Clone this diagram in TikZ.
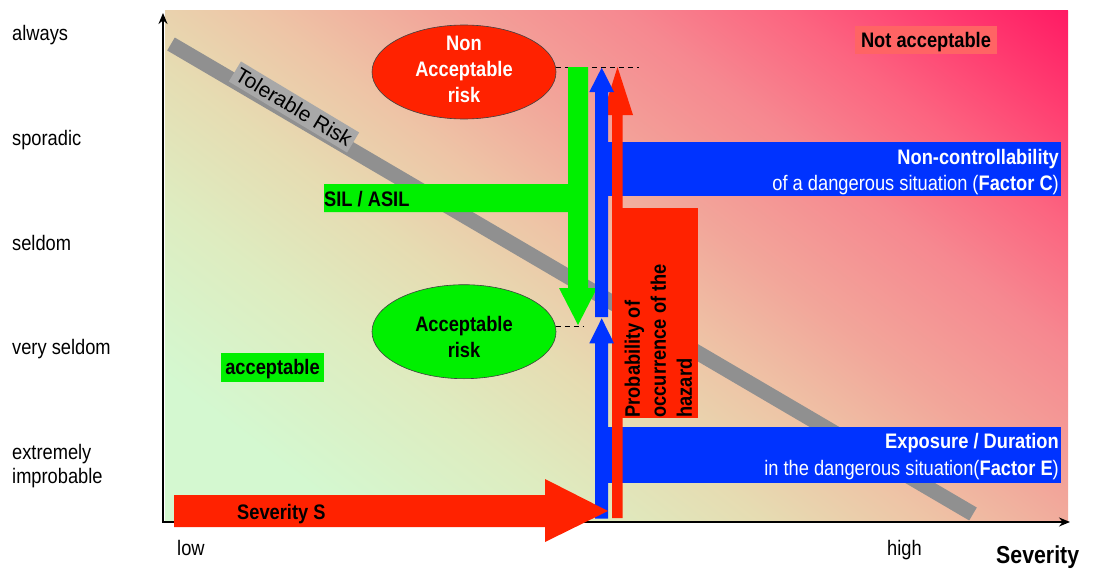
\documentclass[tikz,border=0pt]{standalone}
\usepackage{fontspec}
\setmainfont{Liberation Sans}[FakeStretch=0.87]
\newfontfamily\plainsans{Liberation Sans}
\usetikzlibrary{shapes.geometric,arrows.meta}

% colours
\definecolor{riskred}{HTML}{FF2200}
\definecolor{riskgreen}{HTML}{00F000}
\definecolor{riskblue}{HTML}{0033FF}
\definecolor{bandgray}{HTML}{909090}
\definecolor{labelgray}{HTML}{A8A8A8}
\definecolor{notaccbg}{HTML}{FF6464}
% background ramp, from the hot corner (top right) to the safe corner (bottom left)
\definecolor{bg0}{HTML}{FF1A64}
\definecolor{bg1}{HTML}{FF3C70}
\definecolor{bg2}{HTML}{FC6480}
\definecolor{bg3}{HTML}{F68890}
\definecolor{bg4}{HTML}{F2A69A}
\definecolor{bg5}{HTML}{EEC4A6}
\definecolor{bg6}{HTML}{E6DCB2}
\definecolor{bg7}{HTML}{DEECC0}
\definecolor{bg8}{HTML}{D4F8D0}
% the shaded path's extent maps onto 25bp..75bp of the shading
\pgfdeclarehorizontalshading{riskbg}{100bp}{color(0bp)=(bg0); color(25bp)=(bg0);
  color(29.18bp)=(bg1); color(33.89bp)=(bg2); color(39.12bp)=(bg3); color(45.4bp)=(bg4);
  color(50.63bp)=(bg5); color(55.86bp)=(bg6); color(61.61bp)=(bg7); color(68.93bp)=(bg8);
  color(100bp)=(bg8)}

\tikzset{
  lbl/.style={inner sep=0pt, font=\fontsize{21}{26}\selectfont},
  blbl/.style={inner sep=0pt, font=\fontsize{21}{26}\selectfont\bfseries},
  axisline/.style={line width=1.6pt, {Stealth[length=11pt,width=9pt]}-{Stealth[length=11pt,width=9pt]}},
  riskellipse/.style={ellipse, draw=black!75, line width=0.6pt, minimum width=184pt,
    minimum height=94pt, inner sep=0pt},
  guide/.style={draw=black, line width=1pt, dash pattern=on 5pt off 4pt},
  redblock/.style={fill=riskred},
  greenblock/.style={fill=riskgreen},
  blueblock/.style={fill=riskblue},
  tagbox/.style={blbl, text depth=0pt, minimum height=28pt},
}

\begin{document}
\begin{tikzpicture}[x=1pt,y=-1pt]
\useasboundingbox (0,0) rectangle (1093,570);

% shaded risk field
\begin{scope}
  \clip (165,10) rectangle (1068,522);
  \begin{scope}[transform canvas={shift={(1068,10)},rotate=232.63}]
    \shade[shading=riskbg] (0,-1100) rectangle (956,1100);
  \end{scope}
\end{scope}

% tolerable risk band
\coordinate (bandA) at (171,44);
\coordinate (bandB) at (973,514);
\draw[bandgray, line width=15pt] (bandA) -- (bandB);
\node[rotate=-31, fill=labelgray, inner xsep=3pt, inner ysep=4pt,
      font=\plainsans\fontsize{21}{26}\selectfont] (tolLbl) at (294,107) {Tolerable Risk};

% axes
\coordinate (origin) at (163,522);
\coordinate (yTip) at (163,13);
\coordinate (xTip) at (1070,522);
\draw[axisline] (yTip) -- (origin) -- (xTip);

% frequency classes
\node[lbl, anchor=base west] (fAlways) at (12,40) {always};
\node[lbl, anchor=base west] (fSporadic) at (12,145) {sporadic};
\node[lbl, anchor=base west] (fSeldom) at (12,250) {seldom};
\node[lbl, anchor=base west] (fVery) at (12,354.5) {very seldom};
\node[lbl, anchor=base west] (fExt) at (12,459) {extremely};
\node[lbl, anchor=base west] (fImp) at (12,483.5) {improbable};

% severity scale
\node[lbl, anchor=base west] (sLow) at (177,555) {low};
\node[lbl, anchor=base west] (sHigh) at (887,555) {high};
\node[inner sep=0pt, font=\fontsize{24.5}{28}\selectfont\bfseries, anchor=base west] (sAxis) at (996,563) {Severity};

% region tags
\node[tagbox, fill=notaccbg, minimum width=142pt] (notAcc) at (926,40) {Not acceptable};
\node[tagbox, fill=riskgreen, minimum width=103pt, minimum height=29pt] (acc) at (272.5,367) {acceptable};

% risk ellipses
\node[riskellipse, fill=riskred] (ellNon) at (464,72) {};
\node[blbl, text=white, align=center, anchor=north] (ellNonTxt) at (464,35.5) {Non\\Acceptable\\risk};
\node[riskellipse, fill=riskgreen] (ellAcc) at (464,331.7) {};
\node[blbl, align=center, anchor=north] (ellAccTxt) at (464,316.5) {Acceptable\\risk};

\coordinate (dashTop) at (639,67);
\coordinate (dashLow) at (583,326);
\draw[guide] (ellNon.3) -- (ellNon.3 -| dashTop);
\draw[guide] (ellAcc.3.5) -- (ellAcc.3.5 -| dashLow);

% SIL / ASIL reduction (green)
\fill[greenblock] (324,184) -- (568,184) -- (568,67) -- (588,67) -- (588,288) -- (597,288)
  -- (578,325) -- (559,288) -- (568,288) -- (568,212) -- (324,212) -- cycle;
\node[blbl, anchor=base west] (sil) at (324,206) {SIL / ASIL};

% factor bars
\fill[blueblock] (600,142) rectangle (1061,196);
\fill[blueblock] (600,427) rectangle (1061,483);

% probability of occurrence (red)
\fill[redblock] (612,208) rectangle (698,418);
\fill[redblock] (612,518) -- (612,115) -- (602.5,115) -- (617.5,67) -- (633,115)
  -- (622.7,115) -- (622.7,518) -- cycle;
\node[blbl, rotate=90, align=left, anchor=north west] (prob) at (624.5,417.7)
  {Probability of\\occurrence of the\\hazard};

% exposure and controllability arrows (blue)
\fill[blueblock] (595,317) -- (595,92) -- (589.3,92) -- (601.7,67.7) -- (614,92)
  -- (608,92) -- (608,317) -- cycle;
\fill[blueblock] (595,518.7) -- (595,343.3) -- (589.3,343.3) -- (601.7,318.3) -- (614,343.3)
  -- (608,343.3) -- (608,518.7) -- cycle;

% severity (red)
\fill[redblock] (174,495) -- (545,495) -- (545,479) -- (608,511) -- (545,542)
  -- (545,527) -- (174,527) -- cycle;
\node[blbl, anchor=base west] (sev) at (237,519.3) {Severity S};

% factor texts
\node[blbl, text=white, anchor=base east] (ctrlA) at (1059,164.5) {Non-controllability};
\node[lbl, text=white, anchor=base east] (ctrlB) at (1059,190.5)
  {of a dangerous situation (\textbf{Factor C})};
\node[blbl, text=white, anchor=base east] (expA) at (1059,448.3) {Exposure / Duration};
\node[lbl, text=white, anchor=base east] (expB) at (1059,475)
  {in the dangerous situation(\textbf{Factor E})};
\end{tikzpicture}
\end{document}
